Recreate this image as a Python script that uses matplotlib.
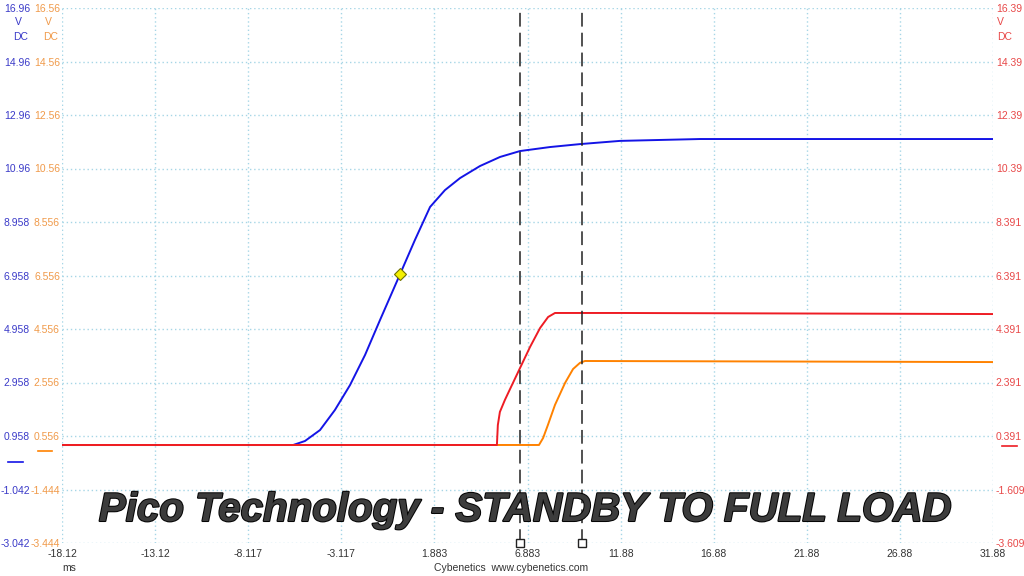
import matplotlib
matplotlib.use("Agg")
import matplotlib.pyplot as plt
import matplotlib.patheffects as pe
import matplotlib.transforms as mtransforms
from matplotlib import font_manager

# ---------------- data ----------------
x_ticks = [-18.117, -13.117, -8.117, -3.117, 1.883, 6.883, 11.883, 16.883, 21.883, 26.883, 31.883]
x_labels = ["-18.12", "-13.12", "-8.117", "-3.117", "1.883", "6.883", "11.88", "16.88", "21.88", "26.88", "31.88"]

blue_ticks = [-3.042 + 2 * i for i in range(11)]
blue_labels = ["-3.042", "-1.042", "0.958", "2.958", "4.958", "6.958", "8.958", "10.96", "12.96", "14.96", "16.96"]
orange_ticks = [-3.444 + 2 * i for i in range(11)]
orange_labels = ["-3.444", "-1.444", "0.556", "2.556", "4.556", "6.556", "8.556", "10.56", "12.56", "14.56", "16.56"]
red_ticks = [-3.609 + 2 * i for i in range(11)]
red_labels = ["-3.609", "-1.609", "0.391", "2.391", "4.391", "6.391", "8.391", "10.39", "12.39", "14.39", "16.39"]

blue_t = [-18.12, -5.71, -5.07, -4.26, -3.46, -2.65, -1.84, -1.04, 0.04, 0.84, 1.65, 2.45, 3.26, 4.33, 5.41, 6.48, 8.09, 9.70, 11.85, 16.15, 31.88]
blue_v = [0.62, 0.62, 0.77, 1.18, 1.93, 2.86, 3.99, 5.29, 7.01, 8.29, 9.52, 10.15, 10.60, 11.05, 11.39, 11.61, 11.76, 11.87, 11.99, 12.06, 12.06]

red_t = [-18.12, 5.24, 5.29, 5.40, 5.67, 6.05, 6.48, 7.02, 7.56, 7.99, 8.36, 12.0, 31.88]
red_v = [0.055, 0.055, 0.80, 1.29, 1.74, 2.30, 2.93, 3.72, 4.43, 4.84, 4.99, 4.99, 4.95]

orange_t = [-18.12, 7.50, 7.72, 7.98, 8.36, 8.90, 9.33, 9.70, 9.97, 31.88]
orange_v = [0.22, 0.22, 0.48, 0.97, 1.72, 2.54, 3.06, 3.29, 3.36, 3.32]

marker_t = [0.04]
marker_v = [7.01]

cursor_t = [6.48, 9.81]

title = "Pico Technology - STANDBY TO FULL LOAD"

# ---------------- style ----------------
BLUE = "#1414e6"
BLUE_TXT = "#3a3ac8"
ORANGE = "#ff8200"
ORANGE_TXT = "#f09a4a"
RED = "#ee1c24"
RED_TXT = "#e84848"
GRID = "#a6d6e6"
TICK_FONT = "Liberation Sans"
FS = 7.5

fig = plt.figure(figsize=(10.24, 5.76), dpi=100)
ax = fig.add_axes([62 / 1024, 1 - 543 / 576, (993 - 62) / 1024, (543 - 8) / 576])
ax_o = ax.twinx()
ax_r = ax.twinx()

for a in (ax, ax_o, ax_r):
    for s in a.spines.values():
        s.set_visible(False)
    a.set_xlim(x_ticks[0], x_ticks[-1])

ax.set_ylim(blue_ticks[0], blue_ticks[-1])
ax_o.set_ylim(orange_ticks[0], orange_ticks[-1])
ax_r.set_ylim(red_ticks[0], red_ticks[-1])

ax.set_xticks(x_ticks)
ax.set_xticklabels(x_labels, fontsize=FS, color="#333333", family=TICK_FONT)
ax.tick_params(axis="x", length=0, pad=4)

ax.set_yticks(blue_ticks)
ax.set_yticklabels(blue_labels, fontsize=FS, color=BLUE_TXT, family=TICK_FONT)
ax.tick_params(axis="y", length=0, pad=23)

ax_o.yaxis.tick_left()
ax_o.set_yticks(orange_ticks)
ax_o.set_yticklabels(orange_labels, fontsize=FS, color=ORANGE_TXT, family=TICK_FONT)
ax_o.tick_params(axis="y", length=0, pad=1.5)

ax_r.set_yticks(red_ticks)
ax_r.set_yticklabels(red_labels, fontsize=FS, color=RED_TXT, family=TICK_FONT)
ax_r.tick_params(axis="y", length=0, pad=2)

ax.grid(True, color=GRID, linestyle=(0, (1, 2)), linewidth=1.0)
ax.set_axisbelow(True)

ax.plot(blue_t, blue_v, color=BLUE, lw=1.4, zorder=3)
ax.plot(marker_t, marker_v, marker="D", ms=6.5, mfc="#f4f000", mec="#707000", mew=0.8, ls="none", zorder=5)
ax_o.plot(orange_t, orange_v, color=ORANGE, lw=1.4, zorder=3)
ax_r.plot(red_t, red_v, color=RED, lw=1.4, zorder=3)

for ct in cursor_t:
    ax_r.axvline(ct, color="#222222", lw=1.1, linestyle=(0, (9, 4)), zorder=4)
    ax_r.plot([ct], [red_ticks[0]], marker="s", ms=5.5, mfc="white", mec="#222222", mew=1.0,
              clip_on=False, zorder=6)

# zero-level indicators in the margins
tb = mtransforms.blended_transform_factory(fig.transFigure, ax.transData)
ax.plot([8 / 1024, 23 / 1024], [0, 0], color=BLUE, lw=1.2, transform=tb, clip_on=False)
to = mtransforms.blended_transform_factory(fig.transFigure, ax_o.transData)
ax_o.plot([38 / 1024, 52 / 1024], [0, 0], color=ORANGE, lw=1.2, transform=to, clip_on=False)
tr = mtransforms.blended_transform_factory(fig.transFigure, ax_r.transData)
ax_r.plot([1002 / 1024, 1017 / 1024], [0, 0], color=RED, lw=1.2, transform=tr, clip_on=False)

# unit labels
def ftxt(x, y, s, c, ha="center"):
    fig.text(x / 1024, 1 - y / 576, s, color=c, fontsize=FS, family=TICK_FONT, ha=ha, va="center")

ftxt(18, 22, "V", BLUE_TXT)
ftxt(21, 37, "DC", BLUE_TXT)
ftxt(48, 22, "V", ORANGE_TXT)
ftxt(51, 37, "DC", ORANGE_TXT)
ftxt(997, 22, "V", RED_TXT, ha="left")
ftxt(997, 37, "DC", RED_TXT, ha="left")
ftxt(62, 568, "ms", "#333333", ha="left")
ftxt(511, 568, "Cybenetics  www.cybenetics.com", "#333333")

# title overlay
names = {f.name for f in font_manager.fontManager.ttflist}
tfam = ["Liberation Sans Narrow", "Liberation Sans"] if "Liberation Sans Narrow" in names else ["Liberation Sans"]
fig.text(525 / 1024, 1 - 510 / 576, title, family=tfam, fontsize=29, fontweight="bold", fontstyle="italic",
         color="#3c3c3c", ha="center", va="center",
         path_effects=[pe.Stroke(linewidth=1.5, foreground="#050505"), pe.Normal()])

fig.savefig("out.png", dpi=100)
